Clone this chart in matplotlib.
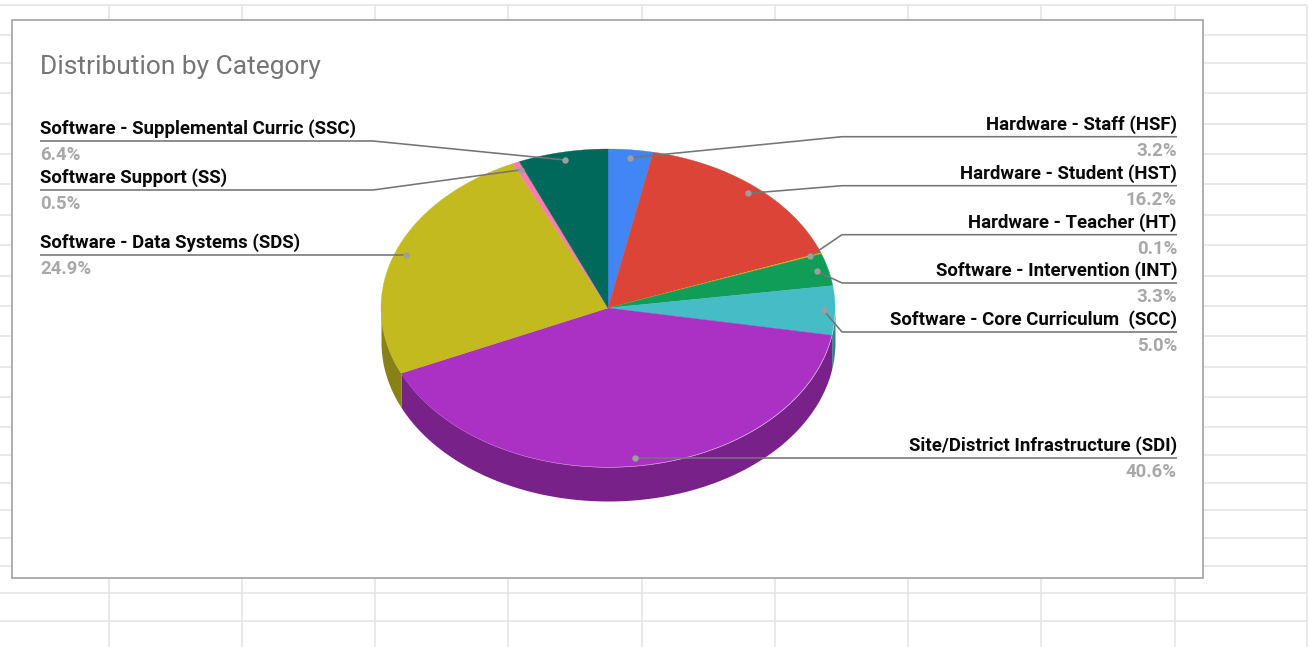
import numpy as np
import matplotlib
matplotlib.use("Agg")
import matplotlib.pyplot as plt

# Budget shares, clockwise from twelve o'clock
categories = [
    "Hardware - Staff (HSF)", "Hardware - Student (HST)", "Hardware - Teacher (HT)",
    "Software - Intervention (INT)", "Software - Core Curriculum  (SCC)",
    "Site/District Infrastructure (SDI)", "Software - Data Systems (SDS)",
    "Software Support (SS)", "Software - Supplemental Curric (SSC)",
]
shares = [3.2, 16.2, 0.1, 3.3, 5.0, 40.6, 24.9, 0.5, 6.4]
top_colors = ["#4285F4", "#DB4437", "#F4B400", "#0F9D58", "#46BDC6",
              "#AB30C4", "#C2BA1F", "#FF7DAC", "#00695C"]
wall_colors = ["#2E5DAB", "#992F26", "#AB7E00", "#0A6E3E", "#318489",
               "#782189", "#888216", "#B25778", "#004940"]

# Leader routing: line height at the label, elbow x, label side
label_rows = [136.7, 185.7, 234.7, 283, 332, 457.7, 255, 190, 141]
label_side = ["r", "r", "r", "r", "r", "r", "l", "l", "l"]

# Spreadsheet grid behind the chart
grid_x = [109, 242, 375, 508, 642, 775, 908, 1041, 1175, 1307]
grid_y = [5, 35, 63, 93, 124, 154, 184, 215, 245, 276, 306, 336, 367, 397,
          427, 455, 483, 510, 538, 566, 593, 621]

CX, CY, RX, RY, DEPTH = 608, 308, 227, 159, 34
ELBOW_R, ELBOW_L, END_R, END_L = 842, 373, 1177, 40
LABEL_PT, TITLE_PT = 13.4, 19.0
LINE_C, DOT_C, PCT_C = "#757575", "#9E9E9E", "#A8A8A8"

plt.rcParams["font.family"] = ["Roboto", "DejaVu Sans"]
fig = plt.figure(figsize=(13.09, 6.47), dpi=100, facecolor="white")
ax = fig.add_axes([0, 0, 1, 1])
ax.set_xlim(0, 1309)
ax.set_ylim(647, 0)
ax.axis("off")

# Sheet cells
ax.hlines(grid_y, 0, 1307, color="#E3E3E3", lw=1.1, zorder=1)
ax.vlines(grid_x, 5, 647, color="#E3E3E3", lw=1.1, zorder=1)

# Chart card
ax.fill([12, 1203, 1203, 12], [20, 20, 578, 578], facecolor="white",
        edgecolor="#A2A2A2", lw=1.2, zorder=2)
ax.text(40, 74, "Distribution by Category", fontsize=TITLE_PT, color="#757575",
        va="baseline", ha="left", zorder=6)


def ellipse_xy(deg, scale=1.0):
    a = np.radians(deg)
    return CX + scale * RX * np.sin(a), CY - scale * RY * np.cos(a)


fractions = np.array(shares) / sum(shares)
edges = np.concatenate([[0], np.cumsum(fractions)]) * 360

for i, (name, share) in enumerate(zip(categories, shares)):
    a0, a1 = edges[i], edges[i + 1]

    # Extruded rim: only the front half of the disc is visible
    w0, w1 = max(a0, 90), min(a1, 270)
    if w1 > w0:
        th = np.linspace(w0, w1, 200)
        x, y = ellipse_xy(th)
        ax.fill_between(x, y, y + DEPTH, color=wall_colors[i], lw=0, zorder=3)

for i in range(len(shares)):
    th = np.linspace(edges[i], edges[i + 1], max(int(edges[i + 1] - edges[i]) * 3, 6))
    x, y = ellipse_xy(th)
    ax.fill(np.r_[CX, x], np.r_[CY, y], facecolor=top_colors[i],
            edgecolor=top_colors[i], lw=0.25, zorder=4 + i * 0.01)

for i, (name, share) in enumerate(zip(categories, shares)):
    mid = (edges[i] + edges[i + 1]) / 2
    dx, dy = ellipse_xy(mid, 0.95)
    row = label_rows[i]
    right = label_side[i] == "r"
    end = END_R if right else END_L
    elbow = ELBOW_R if right else ELBOW_L
    if abs(dy - row) < 3:
        px, py = [dx, end], [dy, dy]
    else:
        px, py = [dx, elbow, end], [dy, row, row]
    ax.plot(px, py, color=LINE_C, lw=1.15, solid_capstyle="butt", zorder=5)
    ax.plot([dx], [dy], "o", ms=4.6, mfc=DOT_C, mec="none", zorder=5.5)
    ha = "right" if right else "left"
    ax.text(end, py[-1] - 7.2, name, fontsize=LABEL_PT, fontweight="bold",
            color="#0A0A0A", ha=ha, va="baseline", zorder=6)
    ax.text(end, py[-1] + 19.2, f"{share:.1f}%", fontsize=LABEL_PT, fontweight="bold",
            color=PCT_C, ha=ha, va="baseline", zorder=6)

fig.savefig("out.png", dpi=100, facecolor="white")
